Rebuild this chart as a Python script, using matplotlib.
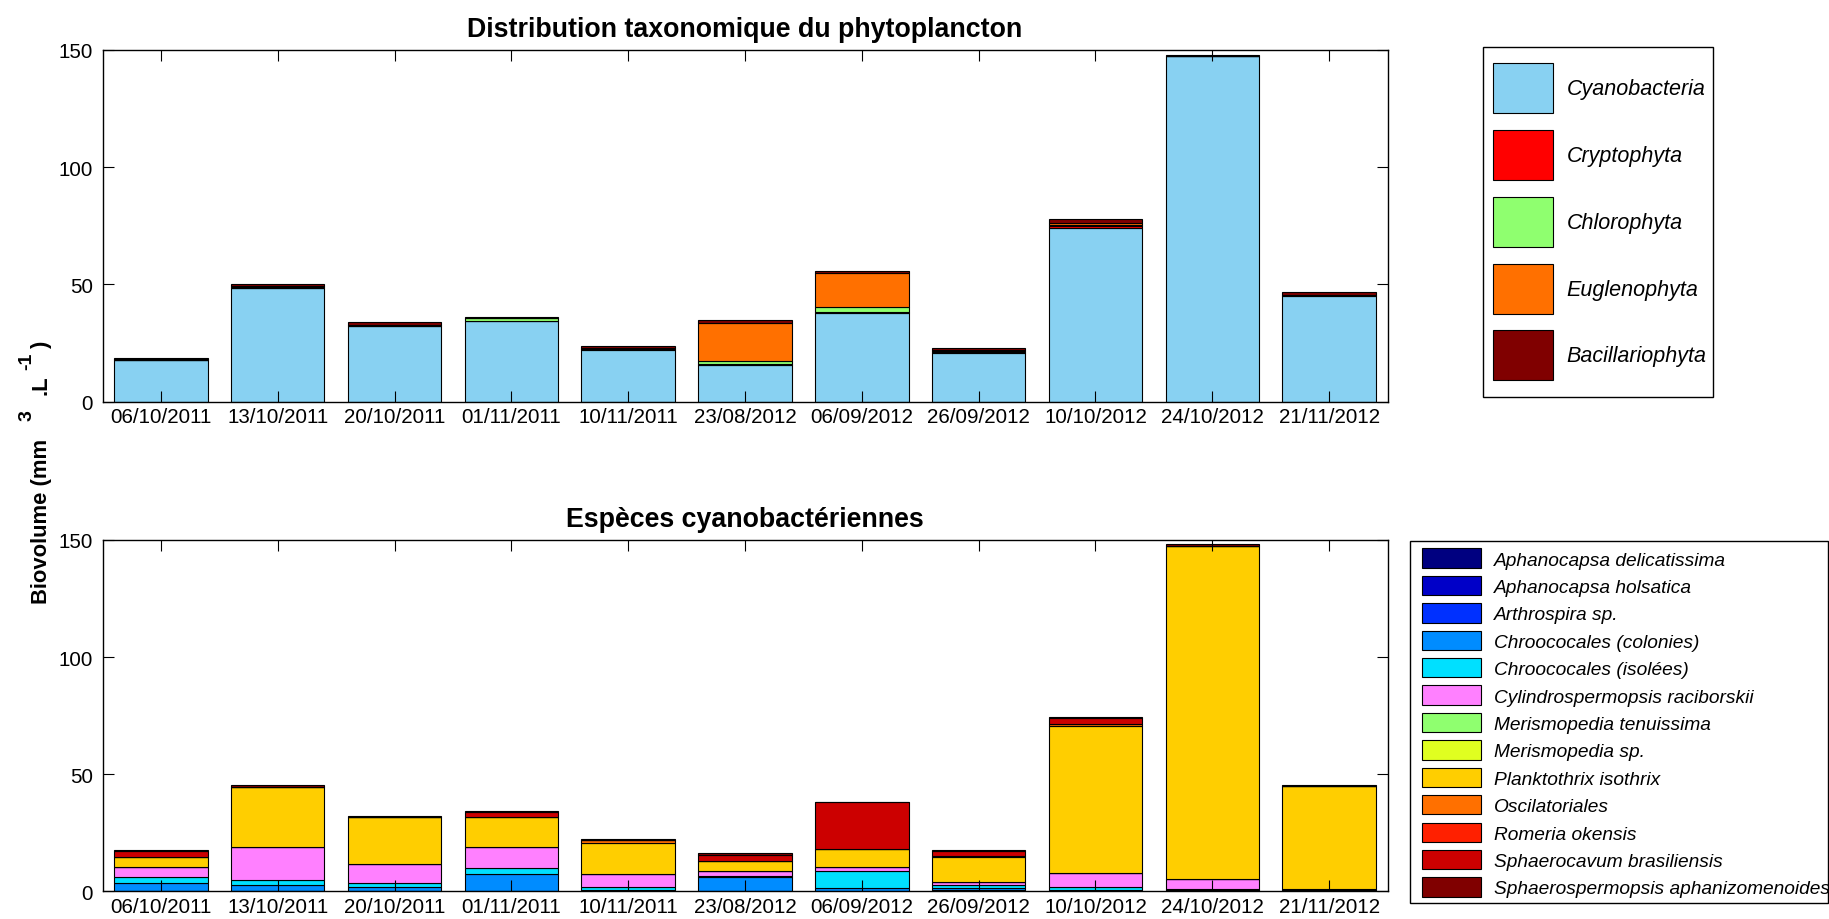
import numpy as np
import matplotlib
matplotlib.use("Agg")
import matplotlib.pyplot as plt
from matplotlib.patches import Rectangle

plt.rcParams['font.family'] = ['Liberation Sans', 'DejaVu Sans']

dates = ['06/10/2011', '13/10/2011', '20/10/2011', '01/11/2011', '10/11/2011',
         '23/08/2012', '06/09/2012', '26/09/2012', '10/10/2012', '24/10/2012',
         '21/11/2012']

# top chart: biovolume per taxonomic group
groups = ['Cyanobacteria', 'Cryptophyta', 'Chlorophyta', 'Euglenophyta', 'Bacillariophyta']
group_colors = ['#88D1F2', '#FF0000', '#8FFF6F', '#FF7000', '#800000']
cyano = [17.8, 48.3, 32.1, 34.5, 22.0, 15.8, 37.7, 20.7, 73.9, 147.6, 45.2]
crypto = [0.0, 0.0, 0.0, 0.0, 0.5, 0.4, 0.5, 0.3, 1.2, 0.0, 0.4]
chloro = [0.0, 0.6, 0.8, 1.2, 0.0, 1.0, 2.0, 0.8, 0.2, 0.0, 0.0]
eugleno = [0.5, 0.3, 0.0, 0.0, 0.2, 16.5, 14.9, 0.3, 1.0, 0.0, 0.0]
bacill = [0.3, 1.2, 0.9, 0.4, 1.0, 1.0, 0.5, 0.8, 1.5, 0.4, 1.0]

# bottom chart: cyanobacteria species
species = ['Aphanocapsa delicatissima', 'Aphanocapsa holsatica', 'Arthrospira sp.',
           'Chroococales (colonies)', 'Chroococales (isolées)',
           'Cylindrospermopsis raciborskii', 'Merismopedia tenuissima',
           'Merismopedia sp.', 'Planktothrix isothrix', 'Oscilatoriales',
           'Romeria okensis', 'Sphaerocavum brasiliensis',
           'Sphaerospermopsis aphanizomenoides']
species_colors = ['#000080', '#0000C8', '#0030FF', '#008CFF', '#00E0FF', '#FF80FF',
                  '#8FFF6F', '#E0FF20', '#FFCE00', '#FF7000', '#FF2000', '#CC0000',
                  '#800000']
aph_del = [0.3, 0.3, 0.3, 0.2, 0.0, 0.3, 0.3, 0.5, 0.2, 0.2, 0.2]
aph_hol = [0.0, 0.0, 0.0, 0.0, 0.0, 0.0, 0.0, 0.2, 0.0, 0.2, 0.0]
arthro = [0.0, 0.0, 0.0, 0.0, 0.0, 0.0, 0.0, 0.0, 0.0, 0.2, 0.0]
chroo_col = [3.1, 2.5, 1.6, 7.0, 0.6, 5.6, 1.0, 0.9, 0.3, 0.2, 0.3]
chroo_iso = [2.5, 2.0, 1.5, 2.6, 1.1, 0.5, 7.2, 1.3, 1.2, 0.3, 0.0]
cylindro = [4.3, 14.1, 8.2, 9.1, 5.5, 2.1, 2.0, 1.2, 6.1, 4.3, 0.3]
meris_ten = [0.0, 0.0, 0.0, 0.0, 0.0, 0.0, 0.0, 0.0, 0.0, 0.0, 0.0]
meris_sp = [0.0, 0.0, 0.0, 0.0, 0.0, 0.0, 0.0, 0.0, 0.0, 0.0, 0.0]
plankto = [4.3, 25.8, 20.1, 12.8, 13.6, 4.3, 7.6, 10.6, 62.7, 142.2, 44.2]
oscil = [0.3, 0.0, 0.0, 0.0, 0.9, 0.0, 0.0, 0.4, 1.1, 0.0, 0.0]
romeria = [0.0, 0.0, 0.0, 0.0, 0.0, 0.0, 0.0, 0.0, 0.0, 0.0, 0.0]
sphaerocavum = [2.5, 0.0, 0.0, 2.1, 0.0, 2.8, 19.9, 1.9, 2.4, 0.0, 0.0]
sphaerosperm = [0.4, 0.5, 0.3, 0.5, 0.7, 0.7, 0.0, 0.5, 0.3, 0.6, 0.4]

top_data = [cyano, crypto, chloro, eugleno, bacill]
bot_data = [aph_del, aph_hol, arthro, chroo_col, chroo_iso, cylindro, meris_ten,
            meris_sp, plankto, oscil, romeria, sphaerocavum, sphaerosperm]

W, H = 1829, 920
fig = plt.figure(figsize=(W / 100, H / 100), dpi=100)
ax1 = fig.add_axes([102.5 / W, 1 - 402.7 / H, (1387.5 - 102.5) / W, (402.7 - 51) / H])
ax2 = fig.add_axes([102.5 / W, 1 - 892.3 / H, (1387.5 - 102.5) / W, (892.3 - 541) / H])

x = np.arange(1, len(dates) + 1)


def stacked(ax, data, names, colors):
    bottom = np.zeros(len(x))
    for vals, name, col in zip(data, names, colors):
        vals = np.array(vals)
        ax.bar(x, vals, 0.8, bottom=bottom, color=col, edgecolor='black',
               linewidth=0.8, label=name)
        bottom += vals


def style(ax, title):
    ax.set_xlim(0.5, 11.5)
    ax.set_ylim(0, 150)
    ax.set_yticks([0, 50, 100, 150])
    ax.set_xticks(x)
    ax.set_xticklabels(dates)
    ax.tick_params(direction='in', top=True, right=True, length=7.7, width=0.8,
                   labelsize=14.8, colors='black')
    ax.tick_params(axis='y', pad=7)
    ax.tick_params(axis='x', pad=4)
    for s in ax.spines.values():
        s.set_linewidth(1.0)
    ax.set_title(title, fontsize=19.3, fontweight='bold', pad=10)


stacked(ax1, top_data, groups, group_colors)
stacked(ax2, bot_data, species, species_colors)
style(ax1, 'Distribution taxonomique du phytoplancton')
style(ax2, 'Espèces cyanobactériennes')

# y label in pieces: the exponents are nearly full size in the original
base_x = 46.5
pieces = [('3', -15, 18, 14), ('.L', 0, 15, 15.8), ('-1', -15, 6, 14), (')', 0, 4, 15.8)]
prev = fig.text(base_x / W, 1 - 604.5 / H, 'Biovolume (mm', rotation=90,
                rotation_mode='anchor', ha='left', va='baseline',
                fontsize=15.8, fontweight='bold')
for txt, dx, gap, fs in pieces:
    prev = ax1.annotate(txt, xy=(base_x + dx, 1), xycoords=('figure pixels', prev),
                        xytext=(0, gap), textcoords='offset pixels', rotation=90,
                        rotation_mode='anchor', ha='left', va='baseline',
                        fontsize=fs, fontweight='bold', annotation_clip=False)

# legends: entries placed by matplotlib, frames drawn as plain rectangles
leg1 = fig.legend(*ax1.get_legend_handles_labels(), loc='upper left',
                  bbox_to_anchor=(1493 / W, 1 - 64.3 / H), borderaxespad=0,
                  prop={'style': 'italic', 'size': 15.5}, handlelength=2.79,
                  handleheight=3.196, labelspacing=0.778, handletextpad=0.62,
                  borderpad=0, frameon=False)
fig.patches.append(Rectangle((1482.5 / W, 1 - 398 / H), (1712.7 - 1482.5) / W,
                             (398 - 48) / H, transform=fig.transFigure, fill=False,
                             edgecolor='black', linewidth=1.0))

leg2 = fig.legend(*ax2.get_legend_handles_labels(), loc='upper left',
                  bbox_to_anchor=(1422 / W, 1 - 549.4 / H), borderaxespad=0,
                  prop={'style': 'italic', 'size': 13.8}, handlelength=3.08,
                  handleheight=1.172, labelspacing=0.38, handletextpad=0.67,
                  borderpad=0, frameon=False)
fig.patches.append(Rectangle((1410 / W, 1 - 904.3 / H), (1828 - 1410) / W,
                             (904.3 - 542.3) / H, transform=fig.transFigure, fill=False,
                             edgecolor='black', linewidth=1.0))

fig.savefig('out.png', dpi=100)
